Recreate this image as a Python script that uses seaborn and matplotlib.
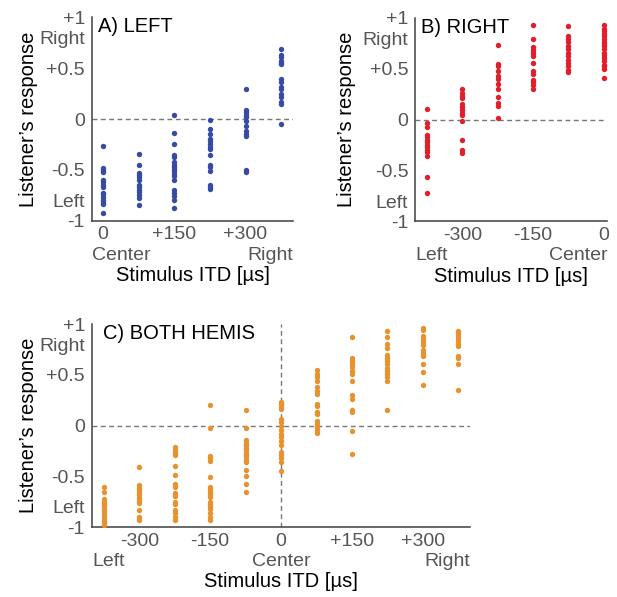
#-------------------------------------------
# Listener's response vs stimulus ITD,
# three panels: left, right, both hemis
#-------------------------------------------

import pandas as pd
import numpy as np
import matplotlib
matplotlib.use("Agg")
import matplotlib.pyplot as plt
import seaborn as sns

#-----------------------DATA-----------------------------------

itd_left = [0, 75, 150, 225, 300, 375]
resp_left = [
    [-0.26, -0.48, -0.50, -0.52, -0.60, -0.62, -0.65, -0.67, -0.73, -0.74, -0.77, -0.79, -0.81, -0.83, -0.92],
    [-0.34, -0.45, -0.53, -0.55, -0.57, -0.60, -0.65, -0.67, -0.70, -0.72, -0.75, -0.78, -0.84],
    [0.04, -0.14, -0.24, -0.35, -0.37, -0.42, -0.45, -0.47, -0.49, -0.51, -0.54, -0.56, -0.60, -0.70, -0.73, -0.76, -0.79, -0.87],
    [-0.01, -0.10, -0.15, -0.20, -0.22, -0.24, -0.27, -0.29, -0.35, -0.45, -0.47, -0.51, -0.65, -0.67, -0.69],
    [0.30, 0.09, 0.07, 0.04, 0.02, -0.02, -0.07, -0.12, -0.15, -0.17, -0.50, -0.52],
    [0.69, 0.63, 0.61, 0.57, 0.55, 0.54, 0.39, 0.36, 0.32, 0.30, 0.25, 0.22, 0.17, 0.15, -0.05],
]

itd_right = [-375, -300, -225, -150, -75, 0]
resp_right = [
    [0.11, -0.03, -0.07, -0.15, -0.17, -0.20, -0.22, -0.25, -0.27, -0.30, -0.32, -0.36, -0.56, -0.72],
    [0.30, 0.26, 0.23, 0.21, 0.15, 0.12, 0.10, 0.07, 0.05, -0.01, -0.20, -0.30, -0.33],
    [0.73, 0.55, 0.53, 0.48, 0.43, 0.40, 0.35, 0.30, 0.22, 0.16, 0.13, 0.02],
    [0.93, 0.79, 0.71, 0.68, 0.66, 0.63, 0.56, 0.48, 0.45, 0.39, 0.37, 0.34, 0.30],
    [0.92, 0.82, 0.79, 0.76, 0.72, 0.69, 0.66, 0.63, 0.59, 0.56, 0.53, 0.49, 0.47],
    [0.93, 0.89, 0.87, 0.84, 0.82, 0.79, 0.76, 0.74, 0.72, 0.69, 0.66, 0.64, 0.61, 0.58, 0.54, 0.53, 0.50, 0.41],
]

itd_both = [-375, -300, -225, -150, -75, 0, 75, 150, 225, 300, 375]
resp_both = [
    [-0.60, -0.65, -0.72, -0.75, -0.77, -0.79, -0.82, -0.84, -0.87, -0.89, -0.92, -0.94, -0.96, -0.98],
    [-0.41, -0.58, -0.61, -0.63, -0.66, -0.68, -0.71, -0.74, -0.76, -0.83, -0.90, -0.93],
    [-0.21, -0.24, -0.27, -0.29, -0.40, -0.49, -0.57, -0.60, -0.66, -0.69, -0.75, -0.77, -0.83, -0.86, -0.90, -0.93],
    [0.20, -0.02, -0.30, -0.32, -0.35, -0.51, -0.60, -0.62, -0.65, -0.67, -0.70, -0.75, -0.77, -0.79, -0.82, -0.86, -0.90, -0.93],
    [0.15, -0.02, -0.14, -0.17, -0.19, -0.22, -0.24, -0.27, -0.29, -0.31, -0.34, -0.36, -0.44, -0.50, -0.57, -0.65],
    [0.23, 0.21, 0.18, 0.16, 0.07, 0.04, 0.00, -0.04, -0.08, -0.11, -0.15, -0.19, -0.26, -0.29, -0.32, -0.36, -0.45],
    [0.55, 0.51, 0.48, 0.44, 0.38, 0.34, 0.31, 0.21, 0.19, 0.13, 0.11, 0.05, 0.02, -0.01, -0.04, -0.07],
    [0.87, 0.67, 0.64, 0.61, 0.58, 0.54, 0.51, 0.44, 0.30, 0.26, 0.15, 0.13, -0.05, -0.28],
    [0.93, 0.87, 0.80, 0.77, 0.70, 0.67, 0.64, 0.61, 0.57, 0.54, 0.51, 0.48, 0.44, 0.15],
    [0.96, 0.94, 0.88, 0.85, 0.82, 0.79, 0.75, 0.72, 0.69, 0.61, 0.53, 0.40],
    [0.93, 0.91, 0.88, 0.86, 0.83, 0.80, 0.78, 0.69, 0.67, 0.61, 0.35],
]

ytick_pos = [-1, -0.8, -0.5, 0, 0.5, 0.8, 1]
ytick_lab = ["-1", "Left", "-0.5", "0", "+0.5", "Right", "+1"]

#-----------------------HELPERS--------------------------------

def to_long(itds, resps):
    rows = [(x, r) for x, col in zip(itds, resps) for r in col]
    return pd.DataFrame(rows, columns=["itd", "response"])

grey = "#555555"
fs = 14.5
fs_tick = 14

def style_axis(ax, xlim, xticks, xlabels, extra, title, color, df, vline=False, ylab_x=-0.27):
    sns.scatterplot(data=df, x="itd", y="response", color=color, s=15,
                    linewidth=0, ax=ax, legend=False, zorder=3)
    ax.axhline(0, color="#777777", lw=1, ls=(0, (3.5, 2.5)), zorder=1)
    if vline:
        ax.axvline(0, color="#777777", lw=1, ls=(0, (3.5, 2.5)), zorder=1)
    ax.set_xlim(xlim)
    ax.set_ylim(-1, 1)
    sns.despine(ax=ax)
    for s in ["left", "bottom"]:
        ax.spines[s].set_color("#404040")
        ax.spines[s].set_linewidth(1.1)
    ax.set_xticks(xticks)
    ax.set_xticklabels(xlabels)
    ax.tick_params(axis="x", direction="in", length=4, color="#404040",
                   labelcolor=grey, labelsize=fs_tick, pad=4)
    ax.set_yticks(ytick_pos)
    ax.set_yticklabels(ytick_lab)
    ax.tick_params(axis="y", length=0, labelcolor=grey, labelsize=fs_tick, pad=5)
    ax.set_yticks([1], minor=True)
    ax.tick_params(axis="y", which="minor", direction="in", length=4, color="#404040")
    for xpos, txt, ha in extra:
        ax.text(xpos, -0.168, txt, transform=ax.get_xaxis_transform(),
                ha=ha, va="center", color=grey, fontsize=fs_tick)
    ax.set_xlabel("Stimulus ITD [µs]", fontsize=fs, color="black")
    ax.xaxis.set_label_coords(0.5, -0.222)
    ax.set_ylabel("Listener’s response", fontsize=fs, color="black")
    ax.yaxis.set_label_coords(ylab_x, 0.5)
    ax.text(0.03, 0.955, title, transform=ax.transAxes, ha="left", va="center",
            fontsize=fs, color="black")

#-----------------------PLOTTING-------------------------------

sns.set_style("white")
plt.rcParams["font.family"] = ["Liberation Sans", "DejaVu Sans"]

fig = plt.figure(figsize=(6.17, 5.97), dpi=100)

ax_a = fig.add_axes([0.149, 0.630, 0.326, 0.341])
ax_b = fig.add_axes([0.673, 0.629, 0.311, 0.341])
ax_c = fig.add_axes([0.149, 0.117, 0.613, 0.340])

ticks_a = [0, 75, 150, 225, 300, 375]
style_axis(ax_a, (-23, 400), ticks_a, ["0", "", "+150", "", "+300", ""],
           [(-23, "Center", "left"), (400, "Right", "right")],
           "A) LEFT", "#374ba5", to_long(itd_left, resp_left), ylab_x=-0.27)

ticks_b = [-375, -300, -225, -150, -75, 0]
style_axis(ax_b, (-400, 7), ticks_b, ["", "-300", "", "-150", "", "0"],
           [(-400, "Left", "left"), (7, "Center", "right")],
           "B) RIGHT", "#e01f2a", to_long(itd_right, resp_right), ylab_x=-0.31)

ticks_c = [-375, -300, -225, -150, -75, 0, 75, 150, 225, 300, 375]
style_axis(ax_c, (-400, 400), ticks_c,
           ["", "-300", "", "-150", "", "0", "", "+150", "", "+300", ""],
           [(-400, "Left", "left"), (0, "Center", "center"), (400, "Right", "right")],
           "C) BOTH HEMIS", "#e8912f", to_long(itd_both, resp_both), vline=True,
           ylab_x=-0.143)

plt.savefig("out.png", dpi=100)
